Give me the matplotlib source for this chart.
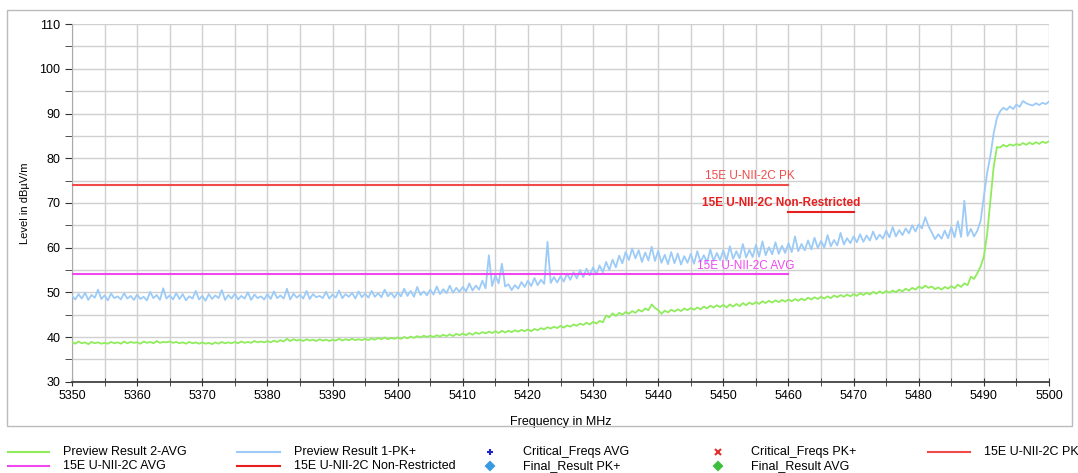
import numpy as np
import matplotlib
matplotlib.use('Agg')
import matplotlib.pyplot as plt
from matplotlib.lines import Line2D
from matplotlib.patches import Rectangle

plt.rcParams['font.family'] = ['Liberation Sans', 'DejaVu Sans']

# sweep 5350 .. 5500 MHz, one reading every 0.5 MHz
freq = np.linspace(5350, 5500, 301)

pk_level = [
    49.2, 48.4, 49.6, 48.6, 49.9, 48.3, 49.4, 48.8, 50.6, 48.5,
    49.3, 48.2, 49.7, 48.7, 49.1, 48.4, 49.8, 48.6, 49.2, 48.3,
    49.5, 48.5, 49.0, 48.2, 50.1, 48.7, 49.4, 48.3, 50.9, 48.6,
    49.3, 48.4, 49.8, 48.5, 49.6, 48.2, 49.1, 48.6, 50.3, 48.4,
    49.2, 48.1, 49.6, 48.5, 49.3, 48.7, 50.5, 48.3, 49.4, 48.6,
    49.7, 48.4, 49.2, 48.6, 50.0, 48.3, 49.5, 48.7, 49.1, 48.4,
    49.6, 48.5, 50.2, 48.7, 49.3, 48.6, 50.8, 48.4, 49.7, 48.8,
    49.4, 48.6, 50.3, 48.5, 49.6, 48.9, 49.2, 48.7, 50.1, 48.6,
    49.5, 48.8, 50.4, 48.7, 49.6, 49.0, 49.9, 48.6, 50.2, 48.9,
    49.7, 48.8, 50.3, 49.0, 49.8, 48.9, 50.6, 49.1, 49.9, 48.8,
    50.0, 49.1, 50.8, 49.2, 50.3, 49.0, 51.2, 49.4, 50.2, 49.3,
    50.6, 49.5, 51.3, 49.6, 50.7, 49.8, 51.5, 49.9, 51.0, 50.1,
    51.2, 50.2, 52.0, 50.4, 51.5, 50.6, 52.6, 50.9, 58.3, 51.4,
    53.8, 52.0, 56.4, 51.3, 51.8, 50.5, 51.6, 50.8, 52.3, 51.2,
    52.6, 51.4, 53.2, 51.6, 52.8, 51.9, 61.3, 52.1, 53.4, 52.2,
    53.6, 52.4, 54.2, 52.8, 54.5, 53.1, 55.0, 53.4, 55.3, 53.8,
    55.6, 54.0, 56.0, 54.5, 56.8, 55.0, 57.3, 55.6, 58.2, 56.5,
    59.0, 57.2, 59.8, 57.6, 59.4, 56.8, 58.9, 57.1, 60.2, 57.0,
    59.3, 56.6, 58.4, 56.3, 59.0, 56.5, 58.7, 56.2, 58.1, 56.6,
    58.6, 56.4, 59.2, 56.8, 58.3, 56.7, 59.6, 57.0, 58.8, 57.2,
    59.4, 57.1, 60.3, 57.5, 59.2, 57.6, 60.8, 57.8, 59.5, 57.9,
    60.6, 58.0, 61.4, 58.3, 60.1, 58.5, 61.2, 58.6, 60.4, 58.8,
    61.0, 59.0, 62.5, 59.2, 60.8, 59.4, 61.6, 59.6, 62.2, 59.9,
    61.5, 60.0, 62.8, 60.3, 61.7, 60.5, 63.3, 60.7, 62.1, 61.0,
    62.5, 61.2, 63.0, 61.3, 62.7, 61.6, 63.6, 61.8, 62.9, 62.0,
    63.8, 62.3, 64.6, 62.5, 63.9, 62.8, 64.3, 63.2, 65.0, 63.6,
    65.2, 64.3, 66.8, 64.8, 63.4, 61.9, 63.0, 62.0, 63.8, 62.1,
    64.6, 62.3, 65.9, 62.4, 70.5, 62.6, 64.2, 62.5, 63.8, 66.0,
    71.5, 76.7, 80.5, 85.5, 89.0, 90.5, 91.3, 90.8, 91.6, 91.0,
    92.0, 91.5, 92.8, 92.3, 92.0, 91.8, 92.3, 91.9, 92.4, 92.1,
    92.7,
]

avg_level = [
    38.9, 38.5, 39.0, 38.6, 38.8, 38.4, 38.9, 38.6, 38.8, 38.5,
    38.7, 38.5, 38.9, 38.6, 38.8, 38.5, 39.0, 38.6, 38.9, 38.7,
    38.8, 38.5, 39.0, 38.7, 38.9, 38.6, 39.1, 38.7, 38.9, 38.8,
    39.0, 38.7, 38.9, 38.6, 38.8, 38.5, 38.9, 38.6, 38.8, 38.5,
    38.8, 38.5, 38.7, 38.4, 38.8, 38.5, 38.9, 38.6, 38.8, 38.6,
    38.9, 38.6, 39.0, 38.7, 38.9, 38.7, 39.1, 38.8, 39.0, 38.8,
    39.1, 38.8, 39.2, 38.9, 39.3, 39.0, 39.6, 39.1, 39.5, 39.2,
    39.4, 39.1, 39.5, 39.2, 39.4, 39.1, 39.5, 39.2, 39.4, 39.1,
    39.4, 39.2, 39.6, 39.2, 39.5, 39.3, 39.6, 39.3, 39.5, 39.3,
    39.6, 39.3, 39.7, 39.4, 39.8, 39.5, 39.9, 39.5, 39.8, 39.6,
    39.9, 39.6, 40.0, 39.7, 40.1, 39.8, 40.2, 39.9, 40.3, 40.0,
    40.3, 40.0, 40.4, 40.1, 40.5, 40.2, 40.6, 40.2, 40.7, 40.4,
    40.8, 40.4, 40.9, 40.5, 41.0, 40.7, 41.1, 40.8, 41.2, 40.9,
    41.3, 40.9, 41.4, 41.0, 41.4, 41.1, 41.5, 41.2, 41.6, 41.3,
    41.7, 41.3, 41.8, 41.5, 42.0, 41.7, 42.2, 41.9, 42.3, 42.0,
    42.5, 42.1, 42.6, 42.3, 42.8, 42.5, 43.0, 42.7, 43.2, 42.8,
    43.4, 43.0, 43.6, 43.3, 44.8, 44.4, 45.3, 44.7, 45.4, 45.0,
    45.6, 45.2, 45.8, 45.4, 46.1, 45.7, 46.4, 46.0, 47.3, 46.5,
    46.0, 45.2, 45.9, 45.5, 46.1, 45.7, 46.2, 45.8, 46.4, 46.0,
    46.5, 46.1, 46.6, 46.2, 46.8, 46.4, 47.0, 46.6, 47.1, 46.7,
    47.2, 46.6, 47.3, 46.8, 47.4, 46.9, 47.6, 47.1, 47.7, 47.3,
    47.8, 47.4, 48.0, 47.6, 48.1, 47.7, 48.2, 47.8, 48.3, 47.9,
    48.4, 48.0, 48.5, 48.1, 48.6, 48.2, 48.8, 48.4, 48.9, 48.5,
    49.0, 48.6, 49.1, 48.7, 49.3, 48.9, 49.4, 49.0, 49.5, 49.1,
    49.6, 49.2, 49.8, 49.4, 49.9, 49.5, 50.1, 49.7, 50.2, 49.8,
    50.3, 49.9, 50.4, 50.0, 50.6, 50.2, 50.8, 50.4, 51.0, 50.6,
    51.3, 50.9, 51.5, 51.0, 51.3, 50.7, 51.1, 50.6, 51.2, 50.8,
    51.4, 50.9, 51.7, 51.2, 52.0, 51.6, 53.5, 53.0, 54.3, 55.8,
    58.0, 63.0, 70.5, 78.0, 82.5, 82.4, 83.0, 82.6, 83.1, 82.8,
    83.2, 82.9, 83.4, 83.0, 83.5, 83.1, 83.6, 83.2, 83.7, 83.4,
    83.8,
]

# limit lines: (label, level, start, stop)
lim_pk = ('15E U-NII-2C PK', 74, 5350, 5460)
lim_nr = ('15E U-NII-2C Non-Restricted', 68, 5460, 5470)
lim_avg = ('15E U-NII-2C AVG', 54, 5350, 5460)

c_avg = '#8fec5c'
c_pk = '#9ccbf7'
c_lpk = '#f04a4a'
c_lnr = '#e61e1e'
c_lavg = '#f048f0'

fig = plt.figure(figsize=(10.78, 4.73), dpi=100)
ax = fig.add_axes([0.0668, 0.193, 0.9063, 0.756])

ax.plot(freq, avg_level, color=c_avg, lw=1.3, zorder=3)
ax.plot(freq, pk_level, color=c_pk, lw=1.3, zorder=3)

for (name, lvl, x0, x1), col, w in [(lim_pk, c_lpk, 'normal'),
                                     (lim_nr, c_lnr, 'bold'),
                                     (lim_avg, c_lavg, 'normal')]:
    ax.plot([x0, x1], [lvl, lvl], color=col, lw=1.5, zorder=4)
    ax.text(x1 + 1.0, lvl + 0.6, name, color=col, fontsize=8.5,
            fontweight=w, ha='right', va='bottom', zorder=5)

ax.set_xlim(5350, 5500)
ax.set_ylim(30, 110)
ax.set_xticks(np.arange(5350, 5501, 10))
ax.set_xticks(np.arange(5355, 5500, 10), minor=True)
ax.set_yticks(np.arange(30, 111, 10))
ax.set_yticks(np.arange(35, 110, 10), minor=True)
ax.grid(True, which='both', color='#d0d0d0', lw=1.0, zorder=0)
ax.tick_params(axis='x', which='both', direction='inout', length=6,
               labelsize=9, pad=3, color='#333333')
ax.tick_params(axis='y', which='both', direction='out', length=5,
               labelsize=9, color='#333333')
for s in ['top', 'right']:
    ax.spines[s].set_visible(False)
ax.spines['left'].set_color('#aaaaaa')
ax.spines['bottom'].set_color('#333333')
ax.spines['bottom'].set_linewidth(1.2)
ax.set_xlabel('Frequency in MHz', fontsize=9, labelpad=10)
ax.set_ylabel('Level in dB\u00b5V/m', fontsize=8)
ax.yaxis.set_label_coords(-0.043, 0.5)

# outer frame around the plot area
fig.add_artist(Rectangle((0.0065, 0.099), 0.988, 0.88, transform=fig.transFigure,
                         fill=False, edgecolor='#bbbbbb', lw=1.0))

# legend below the frame
W, H = 1078, 473
def fx(px):
    return px / W
def fy(py):
    return 1 - py / H

row1, row2 = 452, 466
line_items = [
    (8, 49, row1, c_avg, 'Preview Result 2-AVG'),
    (8, 49, row2, c_lavg, '15E U-NII-2C AVG'),
    (237, 280, row1, c_pk, 'Preview Result 1-PK+'),
    (237, 280, row2, c_lnr, '15E U-NII-2C Non-Restricted'),
    (928, 970, row1, c_lpk, '15E U-NII-2C PK'),
]
for x0, x1, y, col, lab in line_items:
    fig.add_artist(Line2D([fx(x0), fx(x1)], [fy(y), fy(y)], color=col, lw=1.5,
                          transform=fig.transFigure))
    fig.text(fx(x1 + 14), fy(y), lab, fontsize=9, va='center', ha='left')

marker_items = [
    (490, row1, '+', '#2222cc', 'Critical_Freqs AVG'),
    (490, row2, 'D', '#3a9ae0', 'Final_Result PK+'),
    (718, row1, 'x', '#e03030', 'Critical_Freqs PK+'),
    (718, row2, 'D', '#3cbf3c', 'Final_Result AVG'),
]
for x, y, m, col, lab in marker_items:
    fig.add_artist(Line2D([fx(x)], [fy(y)], marker=m, color=col, markersize=4.5,
                          markeredgewidth=1.5, linestyle='none',
                          transform=fig.transFigure))
    fig.text(fx(x + 33), fy(y), lab, fontsize=9, va='center', ha='left')

fig.savefig('out.png', dpi=100)
